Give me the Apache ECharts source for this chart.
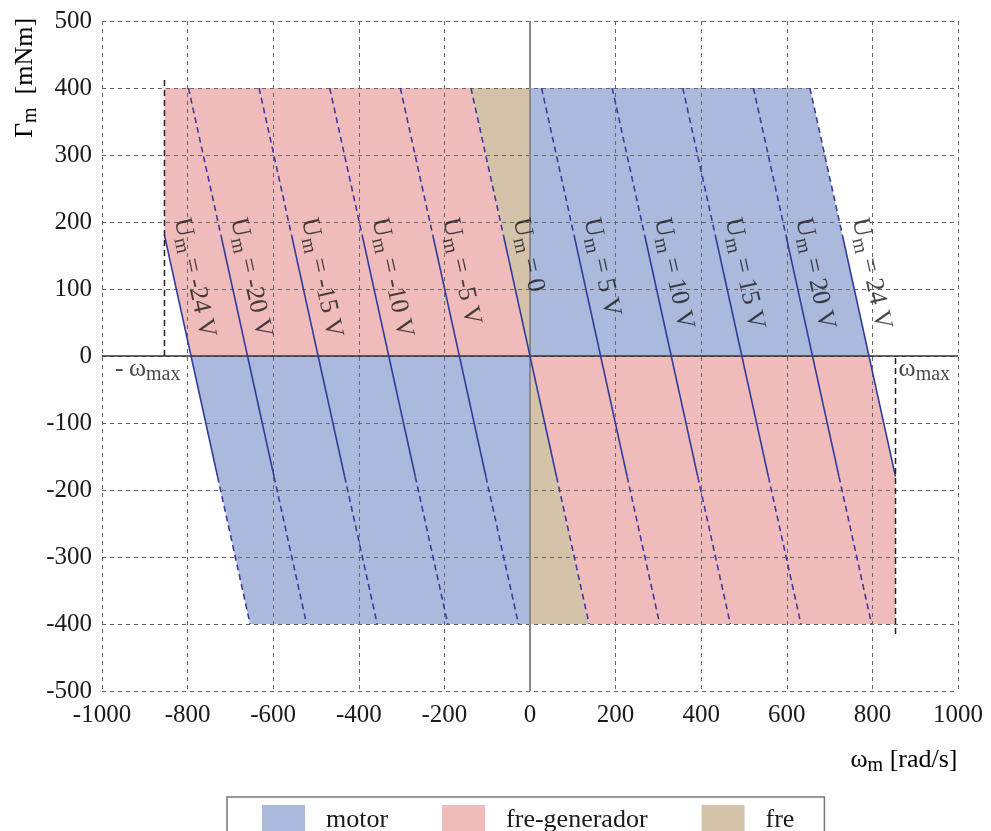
<!DOCTYPE html>
<html><head><meta charset="utf-8">
<script src="https://cdn.jsdelivr.net/npm/echarts@6/dist/echarts.min.js"></script>
<style>html,body{margin:0;padding:0;background:#fff}#c{width:991px;height:831px}</style>
</head><body><div id="c"></div><script>
// ---- data ----
const voltages = [-24, -20, -15, -10, -5, 0, 5, 10, 15, 20, 24];
// speed of each constant-voltage line at given torques (rad/s)
const wAtP400 = [null, -798, -633, -468, -303, -138, 27, 192, 357, 522, 654];
const wAtP180 = [-854, -722, -557, -392, -227, -62, 103, 268, 433, 598, 730];
const wAtN180 = [-730, -598, -433, -268, -103, 62, 227, 392, 557, 722, 854];
const wAtN400 = [-654, -522, -357, -192, -27, 138, 303, 468, 633, 798, null];
const omegaMax = 854;
const omegaMaxLineTop = 415;
const motorRegions = [
  [[0, 0], [0, 400], [654, 400], [792, 0]],
  [[0, 0], [0, -400], [-654, -400], [-792, 0]]
];
const generatorRegions = [
  [[-792, 0], [-854, 180], [-854, 400], [-138, 400], [0, 0]],
  [[0, 0], [138, -400], [854, -400], [854, -180], [792, 0]]
];
const brakeRegions = [
  [[0, 0], [-138, 400], [0, 400]],
  [[0, 0], [0, -400], [138, -400]]
];
const legendNames = ['motor', 'fre-generador', 'fre'];

// ---- styles ----
const FONT = '"Liberation Serif", "DejaVu Serif", serif';
const TXT = '#1a1a1a';
const COL_MOTOR = '#abb9dd';
const COL_GEN = '#f0bcbb';
const COL_BRAKE = '#d4c3a8';
const LINE_COL = '#2e3b9c';
const DASH_COL = '#3f3a9f';
const rich = {
  u: { fontFamily: FONT, fontSize: 26, color: TXT, lineHeight: 32 },
  s: { fontFamily: FONT, fontSize: 20, color: TXT, verticalAlign: 'bottom' }
};

function polySeries(name, color, regions) {
  return {
    type: 'custom', name: name, z: 2, silent: true,
    itemStyle: { color: color },
    data: regions.map(r => r[0]),
    renderItem: function (params, api) {
      const pts = regions[params.dataIndex].map(p => api.coord(p));
      return { type: 'polygon', shape: { points: pts }, style: { fill: color } };
    }
  };
}

const solidSegs = voltages.map((v, i) => [wAtP180[i], 180, wAtN180[i], -180]);
const dashedSegs = [];
voltages.forEach((v, i) => {
  if (wAtP400[i] !== null) dashedSegs.push([wAtP400[i], 400, wAtP180[i], 180]);
  if (wAtN400[i] !== null) dashedSegs.push([wAtN180[i], -180, wAtN400[i], -400]);
});
const omegaMaxSegs = [[-omegaMax, 0, -omegaMax, omegaMaxLineTop], [omegaMax, -omegaMaxLineTop, omegaMax, 0]];

function segSeries(segs, stroke, width, dash, z) {
  return {
    type: 'custom', z: z, silent: true,
    data: segs,
    encode: { x: [0, 2], y: [1, 3] },
    renderItem: function (params, api) {
      const a = api.coord([api.value(0), api.value(1)]);
      const b = api.coord([api.value(2), api.value(3)]);
      return {
        type: 'line',
        shape: { x1: a[0], y1: a[1], x2: b[0], y2: b[1] },
        style: { stroke: stroke, lineWidth: width, lineDash: dash }
      };
    }
  };
}

const chart = echarts.init(document.getElementById('c'), null, { renderer: 'canvas' });
chart.setOption({
  animation: false,
  backgroundColor: '#fff',
  grid: { left: 102, right: 33, top: 21, bottom: 140 },
  xAxis: {
    type: 'value', min: -1000, max: 1000, interval: 200, z: 3,
    axisLine: { show: false }, axisTick: { show: false },
    splitLine: { show: true, lineStyle: { color: '#666', width: 1, type: [4, 4] } },
    axisLabel: { fontFamily: FONT, fontSize: 25, color: TXT, margin: 12, formatter: v => String(v) }
  },
  yAxis: {
    type: 'value', min: -500, max: 500, interval: 100, z: 3,
    axisLine: { show: false }, axisTick: { show: false },
    splitLine: { show: true, lineStyle: { color: '#666', width: 1, type: [4, 4] } },
    axisLabel: { fontFamily: FONT, fontSize: 25, color: TXT, margin: 10, formatter: v => String(v) }
  },
  legend: {
    left: 227, top: 797, padding: [8, 30, 8, 35],
    itemWidth: 43, itemHeight: 30, itemGap: 54, icon: 'rect',
    borderColor: '#777', borderWidth: 1.5,
    textStyle: { fontFamily: FONT, fontSize: 26, color: TXT, padding: [0, 0, 0, 16] },
    data: legendNames
  },
  graphic: [
    { type: 'text', x: 25, y: 78, rotation: Math.PI / 2,
      style: { text: '{u|Γ}{s|m}{u|  [mNm]}', rich: rich, align: 'center', verticalAlign: 'middle' } },
    { type: 'text', x: 904, y: 760,
      style: { text: '{u|ω}{s|m}{u| [rad/s]}', rich: rich, align: 'center', verticalAlign: 'middle' } }
  ],
  series: [
    polySeries(legendNames[0], COL_MOTOR, motorRegions),
    polySeries(legendNames[1], COL_GEN, generatorRegions),
    polySeries(legendNames[2], COL_BRAKE, brakeRegions),
    {
      type: 'line', data: [], z: 4, silent: true,
      markLine: {
        silent: true, symbol: 'none', label: { show: false }, animation: false,
        data: [
          { yAxis: 0, lineStyle: { color: '#333', width: 1.5, type: 'solid' } },
          { xAxis: 0, lineStyle: { color: '#888', width: 2, type: 'solid' } }
        ]
      }
    },
    segSeries(dashedSegs, DASH_COL, 1.6, [6, 4], 5),
    segSeries(solidSegs, LINE_COL, 1.6, null, 5),
    segSeries(omegaMaxSegs, '#222', 1.5, [6, 4], 5),
    {
      type: 'scatter', z: 6, silent: true, symbolSize: 0,
      data: voltages.map((v, i) => ({ value: [wAtP180[i], 180], v: v })),
      label: {
        show: true, position: 'inside', rotate: -77.6, align: 'left', verticalAlign: 'middle',
        offset: [-13, -20], rich: rich,
        formatter: p => p.data.v === 0 ? '{u|U}{s|m}{u| = 0}' : '{u|U}{s|m}{u| = ' + p.data.v + ' V}'
      }
    },
    {
      type: 'scatter', z: 6, silent: true, symbolSize: 0,
      data: [
        { value: [-omegaMax, 0], label: { show: true, position: 'inside', align: 'right', verticalAlign: 'middle', offset: [16, 13], rich: rich, formatter: '{u|-\u2009ω}{s|max}' } },
        { value: [omegaMax, 0], label: { show: true, position: 'inside', align: 'left', verticalAlign: 'middle', offset: [3, 13], rich: rich, formatter: '{u|ω}{s|max}' } }
      ]
    }
  ]
});
</script></body></html>
